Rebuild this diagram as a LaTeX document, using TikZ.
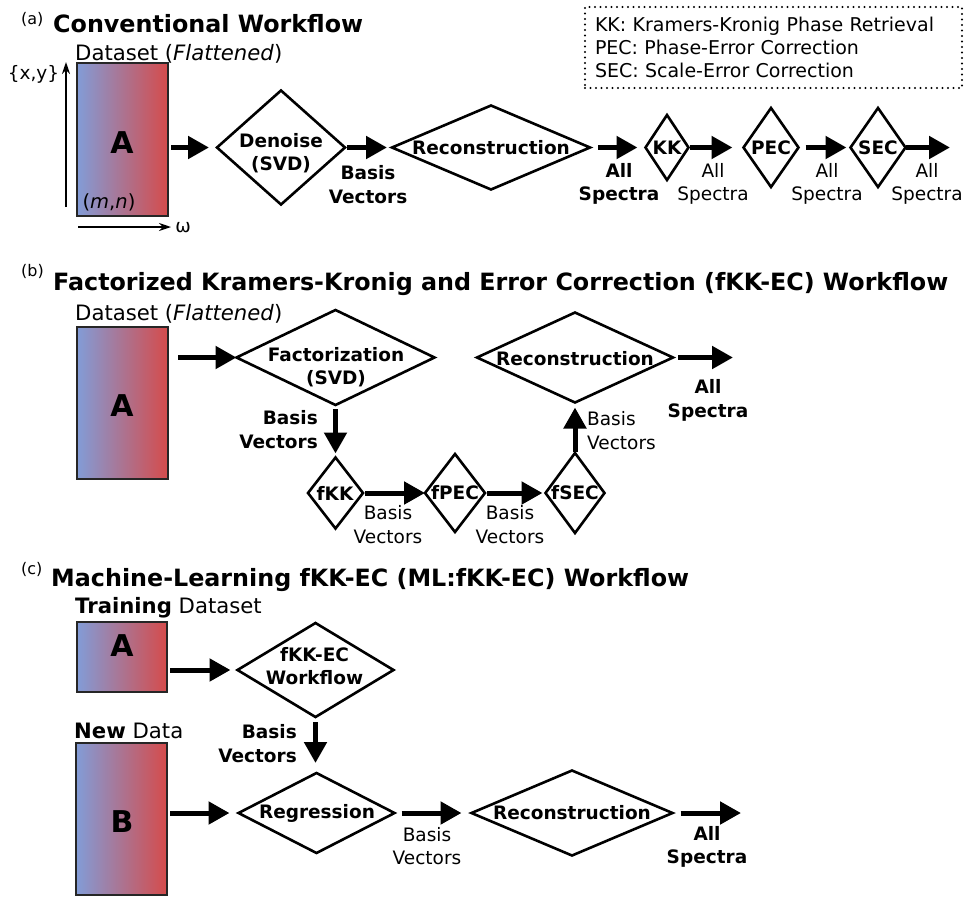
\documentclass[tikz,border=0pt]{standalone}
\usepackage{fontspec}
\setmainfont{DejaVu Sans}
\usetikzlibrary{arrows.meta,shapes.geometric}
\definecolor{cblue}{RGB}{130,156,215}
\definecolor{cred}{RGB}{213,75,75}
\tikzset{
  flow/.style={line width=5pt,-{Triangle[length=21pt,width=22pt]}},
  axis/.style={line width=1.6pt,-{Stealth[length=12pt,width=8pt]}},
  dia/.style={draw,diamond,line width=2.6pt,inner sep=0pt,outer sep=0pt},
  datbox/.style={draw=black!85,line width=2.6pt,left color=cblue,right color=cred,inner sep=0pt,outer sep=0pt,anchor=north west},
  dtxt/.style={font=\bfseries\fontsize{18.5}{23}\selectfont,align=center,inner sep=0pt},
  lbl/.style={font=\fontsize{18.5}{23.5}\selectfont,align=center,inner sep=0pt},
  blbl/.style={font=\bfseries\fontsize{18.5}{23.5}\selectfont,align=center,inner sep=0pt},
  ttl/.style={font=\bfseries\fontsize{23.8}{28}\selectfont,inner sep=0pt,anchor=base west},
  tagl/.style={font=\fontsize{16}{19}\selectfont,inner sep=0pt,anchor=base west},
  dsl/.style={font=\fontsize{21.2}{24}\selectfont,inner sep=0pt,anchor=base west},
  big/.style={font=\bfseries\fontsize{30}{36}\selectfont,inner sep=0pt},
  legend/.style={draw,line width=2.2pt,dash pattern=on 0pt off 5.5pt,line cap=round,
    minimum width=377,minimum height=81,text width=357,align=left,inner sep=0pt,
    font=\fontsize{19}{23}\selectfont}
}
\begin{document}
\begin{tikzpicture}[x=1pt,y=-1pt]
\fill[white] (0,0) rectangle (966,900);
\useasboundingbox (0,0) rectangle (966,900);

% ---------------- (a) ----------------
\node[tagl] (taga) at (21,24) {(a)};
\node[ttl] (ttla) at (53,32) {Conventional Workflow};
\node[dsl] (dsa) at (75,60) {Dataset (\textit{Flattened})};
\node[datbox,minimum width=91,minimum height=153] (ra) at (77,63) {};
\node[big] (la) at (122,142.5) {A};
\node[font=\fontsize{19.5}{23}\selectfont,inner sep=0pt] (mn) at (109,202) {(\textit{m},\textit{n})};
\coordinate (yb) at (66,207);
\coordinate (yt) at (66,62);
\draw[axis] (yb) -- (yt);
\node[font=\fontsize{18.5}{22}\selectfont,inner sep=0pt] (xy) at (33.5,74) {\{x,y\}};
\coordinate (xl) at (78,227);
\coordinate (xr) at (171,227);
\draw[axis] (xl) -- (xr);
\node[font=\fontsize{18.5}{22}\selectfont,inner sep=0pt] (om) at (183,228) {ω};

\node[legend] (leg) at (773.5,47.5) {KK: Kramers-Kronig Phase Retrieval\\PEC: Phase-Error Correction\\SEC: Scale-Error Correction};

\node[dia,minimum width=128,minimum height=114] (den) at (281,147.5) {};
\node[dtxt] (dent) at (281,153) {Denoise\\(SVD)};
\node[dia,minimum width=198,minimum height=84] (reca) at (491,147.5) {};
\node[dtxt] (recat) at (491,148) {Reconstruction};
\node[dia,minimum width=43,minimum height=65] (kk) at (667,147.5) {};
\node[dtxt] (kkt) at (667,148) {KK};
\node[dia,minimum width=55,minimum height=79] (pec) at (771,147.5) {};
\node[dtxt] (pect) at (771,148) {PEC};
\node[dia,minimum width=55,minimum height=79] (sec) at (878,147.5) {};
\node[dtxt] (sect) at (878,148) {SEC};
\coordinate (enda) at (950,147.5);

\draw[flow,shorten <=3pt,shorten >=8pt] (ra.east |- den.west) -- (den.west);
\draw[flow,shorten <=2pt,shorten >=5pt] (den.east) -- (reca.west);
\draw[flow,shorten <=8pt,shorten >=8pt] (reca.east) -- (kk.west);
\draw[flow,shorten <=1pt,shorten >=11pt] (kk.east) -- (pec.west);
\draw[flow,shorten <=7pt,shorten >=4pt] (pec.east) -- (sec.west);
\draw[flow] (sec.east) -- (enda);

\node[blbl] (bva) at (368,184.5) {Basis\\Vectors};
\node[blbl] (asa) at (619,184) {All\\Spectra};
\node[lbl] (as1) at (713,184) {All\\Spectra};
\node[lbl] (as2) at (827,184) {All\\Spectra};
\node[lbl] (as3) at (927,184) {All\\Spectra};

% ---------------- (b) ----------------
\node[tagl] (tagb) at (21,276) {(b)};
\node[ttl] (ttlb) at (53,290) {Factorized Kramers-Kronig and Error Correction (fKK-EC) Workflow};
\node[dsl] (dsb) at (75,320) {Dataset (\textit{Flattened})};
\node[datbox,minimum width=91,minimum height=152] (rb) at (77,327) {};
\node[big] (lb) at (122,406) {A};

\node[dia,minimum width=198,minimum height=95] (fac) at (335.5,357.5) {};
\node[dtxt] (fact) at (336,367) {Factorization\\(SVD)};
\node[dia,minimum width=55,minimum height=71] (fkk) at (335.5,493) {};
\node[dtxt] (fkkt) at (335,493) {fKK};
\node[dia,minimum width=60,minimum height=78] (fpec) at (455,493) {};
\node[dtxt] (fpect) at (455,493) {fPEC};
\node[dia,minimum width=59,minimum height=80] (fsec) at (575,493) {};
\node[dtxt] (fsect) at (575,493) {fSEC};
\node[dia,minimum width=196,minimum height=90] (recb) at (575,357.5) {};
\node[dtxt] (recbt) at (575,359) {Reconstruction};
\coordinate (endb) at (733,357.5);

\draw[flow,shorten <=10pt] (rb.east |- fac.west) -- (fac.west);
\draw[flow,shorten <=4pt,shorten >=4pt] (fac.south) -- (fkk.north);
\draw[flow,shorten <=2pt] (fkk.east) -- (fpec.west);
\draw[flow,shorten <=2pt,shorten >=3pt] (fpec.east) -- (fsec.west);
\draw[flow,shorten <=1pt,shorten >=5pt] (fsec.north) -- (recb.south);
\draw[flow,shorten <=5pt] (recb.east) -- (endb);

\node[blbl,align=right,anchor=east] (bvb) at (318,429.5) {Basis\\Vectors};
\node[lbl] (bvb2) at (388,524.5) {Basis\\Vectors};
\node[lbl] (bvb3) at (510,524.5) {Basis\\Vectors};
\node[lbl,align=left,anchor=west] (bvb4) at (587,430.5) {Basis\\Vectors};
\node[blbl] (asb) at (708,400.5) {All\\Spectra};

% ---------------- (c) ----------------
\node[tagl] (tagc) at (21,574) {(c)};
\node[ttl] (ttlc) at (51,586) {Machine-Learning fKK-EC (ML:fKK-EC) Workflow};
\node[dsl] (dsc1) at (75,613) {\textbf{Training} Dataset};
\node[datbox,minimum width=90,minimum height=70] (rc1) at (77,622) {};
\node[big] (lc1) at (122,645.5) {A};
\node[dsl] (dsc2) at (74,738) {\textbf{New} Data};
\node[datbox,minimum width=91,minimum height=152] (rc2) at (76,743) {};
\node[big] (lc2) at (122,822) {B};

\node[dia,minimum width=156,minimum height=94] (fke) at (315.5,670) {};
\node[dtxt] (fket) at (314.5,666) {fKK-EC\\Workflow};
\node[dia,minimum width=156,minimum height=80] (reg) at (316.5,813) {};
\node[dtxt] (regt) at (317,813.5) {Regression};
\node[dia,minimum width=201,minimum height=85] (recc) at (572,813) {};
\node[dtxt] (recct) at (572,813) {Reconstruction};
\coordinate (endc) at (741,813);

\draw[flow,shorten <=3pt,shorten >=7pt] (rc1.east |- fke.west) -- (fke.west);
\draw[flow,shorten <=5pt,shorten >=10pt] (fke.south) -- (fke.south |- reg.north);
\draw[flow,shorten <=3pt,shorten >=9pt] (rc2.east |- reg.west) -- (reg.west);
\draw[flow,shorten <=7pt,shorten >=10pt] (reg.east) -- (recc.west);
\draw[flow,shorten <=8pt] (recc.east) -- (endc);

\node[blbl,align=right,anchor=east] (bvc) at (297,743.5) {Basis\\Vectors};
\node[lbl] (bvc2) at (427,846) {Basis\\Vectors};
\node[blbl] (asc) at (707,847) {All\\Spectra};
\end{tikzpicture}
\end{document}
